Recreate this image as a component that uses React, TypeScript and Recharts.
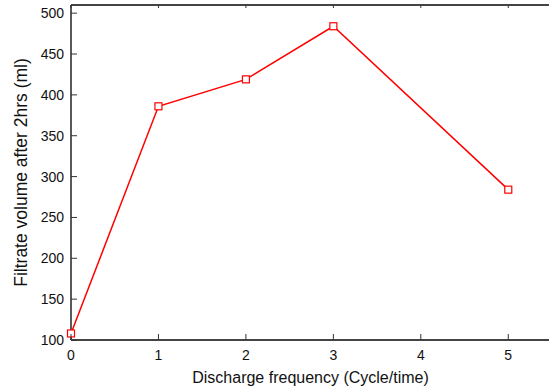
import React from 'react';
import { LineChart, Line, XAxis, YAxis } from 'recharts';

const frequency = [0, 1, 2, 3, 5];
const filtrate = [108, 386, 419, 484, 284];
const xTicks = [0, 1, 2, 3, 4, 5];
const yTicks = [100, 125, 150, 175, 200, 225, 250, 275, 300, 325, 350, 375, 400, 425, 450, 475, 500];

const data = frequency.map((f, i) => ({ f, v: filtrate[i] }));

const FONT = '"Liberation Sans", Arial, sans-serif';
const AXIS = '#333';

const YTick = (props: any) => {
  const { x, y, payload } = props;
  const major = payload.value % 50 === 0;
  return (
    <g>
      <line x1={x} x2={x + (major ? 6 : 3)} y1={y} y2={y} stroke={AXIS} strokeWidth={1} />
      {major && (
        <text x={x - 7} y={y} dy={5} textAnchor="end" fontSize={14} fontFamily={FONT} fill="#111">
          {payload.value}
        </text>
      )}
    </g>
  );
};

const XTick = (props: any) => {
  const { x, y, payload } = props;
  return (
    <g>
      <line x1={x} x2={x} y1={y} y2={y - 6} stroke={AXIS} strokeWidth={1} />
      <text x={x} y={y + 20} textAnchor="middle" fontSize={14} fontFamily={FONT} fill="#111">
        {payload.value}
      </text>
    </g>
  );
};

const TopTick = (props: any) => {
  const { x, y } = props;
  return <line x1={x} x2={x} y1={y} y2={y + 3} stroke={AXIS} strokeWidth={1} />;
};

const Square = (props: any) => {
  const { cx, cy, index } = props;
  return (
    <rect key={index} x={cx - 3.5} y={cy - 3.5} width={7} height={7} fill="#fff" stroke="#ff0000" strokeWidth={1.2} />
  );
};

const XLabel = (props: any) => {
  const vb = props.viewBox || { x: 71, y: 340, width: 481, height: 49 };
  return (
    <text x={vb.x + vb.width / 2 - 1} y={vb.y + 43} textAnchor="middle" fontSize={16} fontFamily={FONT} fill="#111">
      Discharge frequency (Cycle/time)
    </text>
  );
};

const YLabel = (props: any) => {
  const vb = props.viewBox || { x: 0, y: 5, width: 71, height: 335 };
  const cx = 21;
  const cy = vb.y + vb.height / 2;
  return (
    <text
      x={cx}
      y={cy}
      transform={`rotate(-90, ${cx}, ${cy})`}
      textAnchor="middle"
      dominantBaseline="central"
      fontSize={17.5}
      fontFamily={FONT}
      fill="#111"
    >
      Filtrate volume after 2hrs (ml)
    </text>
  );
};

export default function App() {
  return (
    <div style={{ position: 'absolute', left: 0, top: 0, width: 549, height: 389, overflow: 'hidden', background: '#fff' }}>
      <LineChart width={552} height={389} data={data} margin={{ top: 4, right: 0, left: 0, bottom: 0 }}>
        <XAxis
          dataKey="f"
          type="number"
          domain={[0, 5.5]}
          ticks={xTicks}
          height={49}
          tickSize={0}
          tickMargin={0}
          tickLine={false}
          tick={<XTick />}
          axisLine={{ stroke: '#444', strokeWidth: 2 }}
          label={<XLabel />}
        />
        <XAxis
          xAxisId="top"
          orientation="top"
          dataKey="f"
          type="number"
          domain={[0, 5.5]}
          ticks={xTicks}
          height={1}
          tickSize={0}
          tickMargin={0}
          tickLine={false}
          tick={<TopTick />}
          axisLine={{ stroke: '#444', strokeWidth: 2 }}
        />
        <YAxis
          type="number"
          domain={[100, 510]}
          ticks={yTicks}
          width={71}
          tickSize={0}
          tickMargin={0}
          tickLine={false}
          tick={<YTick />}
          axisLine={{ stroke: '#222', strokeWidth: 1.5 }}
          label={<YLabel />}
        />
        <Line
          dataKey="v"
          stroke="#ff0000"
          strokeWidth={1.5}
          dot={<Square />}
          activeDot={false}
          isAnimationActive={false}
        />
      </LineChart>
    </div>
  );
}
